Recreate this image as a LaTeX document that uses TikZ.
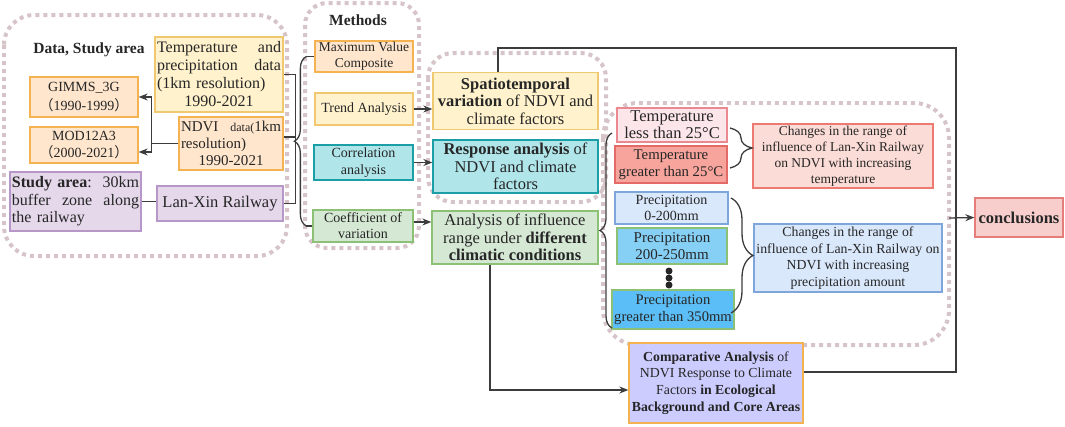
\documentclass[tikz,border=0pt]{standalone}
\usepackage{fontspec}
\setmainfont{Liberation Serif}
\newfontfamily\cjk{Noto Sans CJK SC}
\usetikzlibrary{arrows.meta,decorations.pathreplacing}
\definecolor{framecol}{HTML}{D6C4C8}
\definecolor{linecol}{HTML}{3C3C3C}
\definecolor{yelfill}{HTML}{FFF2CC}
\definecolor{yeldraw}{HTML}{F0C870}
\definecolor{orfill}{HTML}{FFE6CC}
\definecolor{ordraw}{HTML}{F4B350}
\definecolor{purfill}{HTML}{E4D8EA}
\definecolor{purdraw}{HTML}{B797C8}
\definecolor{cyfill}{HTML}{B0E6EA}
\definecolor{cydraw}{HTML}{1C9EA6}
\definecolor{grfill}{HTML}{D5E8D4}
\definecolor{grdraw}{HTML}{8CC075}
\definecolor{pkfill}{HTML}{FDE6EA}
\definecolor{pkdraw}{HTML}{EA8A90}
\definecolor{safill}{HTML}{F7A49C}
\definecolor{sadraw}{HTML}{E36A66}
\definecolor{rdfill}{HTML}{FCDCD6}
\definecolor{rddraw}{HTML}{EC7A72}
\definecolor{lbfill}{HTML}{DAE8FC}
\definecolor{lbdraw}{HTML}{7EA6DA}
\definecolor{bluefill}{HTML}{86D0F6}
\definecolor{deepfill}{HTML}{5CBEF7}
\definecolor{cofill}{HTML}{F8CECC}
\definecolor{codraw}{HTML}{E57E7A}
\definecolor{lvfill}{HTML}{CCCCFF}
\begin{document}
\begin{tikzpicture}[x=1pt,y=-1pt]
	\tikzset{box/.style={draw, line width=1.3pt, inner sep=0pt, align=center, text=black!85},
	dotframe/.style={draw=framecol, line width=4pt, dash pattern=on 4pt off 4pt},
	conn/.style={draw=linecol, line width=1.3pt},
	arr/.style={conn, -{Stealth[length=9pt,width=7pt]}},
	brc/.style={conn, decorate, decoration={brace, amplitude=#1}}};
	\useasboundingbox (0,0) rectangle (1065,426);

	% dotted groups
	\draw[dotframe, rounded corners=30pt] (4,15) rectangle (287,256);
	\draw[dotframe, rounded corners=22pt] (305,3) rectangle (419,248);
	\draw[dotframe, rounded corners=25pt] (428,53) rectangle (606,202);
	\draw[dotframe, rounded corners=35pt] (603,103) rectangle (949,345);

	\node[text=black!85, font=\bfseries\fontsize{15.5}{18}\selectfont] (datalbl) at (89,50) {Data, Study area};
	\node[text=black!85, font=\bfseries\fontsize{15.5}{18}\selectfont] (methlbl) at (358,20) {Methods};

	% data
	\node[box, fill=yelfill, draw=yeldraw, minimum width=128, minimum height=75, text width=124, font=\fontsize{16}{18}\selectfont] (tpd) at (219,74.5) {Temperature\hfill and\\precipitation\hfill data\\(1km resolution)\hfill\null\\1990-2021};
	\node[box, fill=orfill, draw=ordraw, minimum width=108, minimum height=40, font=\fontsize{14}{19}\selectfont] (gimms) at (84,97) {GIMMS\_3G\\{\cjk （}1990-1999{\cjk ）}};
	\node[box, fill=orfill, draw=ordraw, minimum width=108, minimum height=36, font=\fontsize{14}{17}\selectfont] (mod) at (84,145) {MOD12A3\\{\cjk （}2000-2021{\cjk ）}};
	\node[box, fill=orfill, draw=ordraw, minimum width=104, minimum height=53, text width=100, font=\fontsize{15}{17}\selectfont] (ndvi) at (231,143.5) {NDVI\hfill{\fontsize{12}{17}\selectfont data(}1km\\resolution)\hfill\null\\1990-2021};
	\node[box, fill=purfill, draw=purdraw, minimum width=131, minimum height=59, text width=127, font=\fontsize{16}{17.5}\selectfont] (study) at (75.5,201.5) {\textbf{Study area}:\hfill 30km\\buffer\hfill zone\hfill along\\the railway\hfill\null};
	\node[box, fill=purfill, draw=purdraw, minimum width=126, minimum height=35, font=\fontsize{16.5}{18}\selectfont] (lanxin) at (220,203.5) {Lan-Xin Railway};

	% methods
	\node[box, fill=orfill, draw=ordraw, minimum width=98, minimum height=31, font=\fontsize{13.5}{16.5}\selectfont] (mvc) at (364,56.5) {Maximum Value\\Composite};
	\node[box, fill=yelfill, draw=yeldraw, minimum width=98, minimum height=32, font=\fontsize{14}{16.5}\selectfont] (trend) at (364,109) {Trend Analysis};
	\node[box, fill=cyfill, draw=cydraw, minimum width=99, minimum height=35, font=\fontsize{14}{16.5}\selectfont] (corr) at (363.5,162.5) {Correlation\\analysis};
	\node[box, fill=grfill, draw=grdraw, minimum width=100, minimum height=32, font=\fontsize{14}{16}\selectfont] (cov) at (363,226) {Coefficient of\\variation};

	% analyses
	\node[box, fill=yelfill, draw=yeldraw, minimum width=165, minimum height=57, font=\fontsize{16.5}{17.5}\selectfont] (spatio) at (515.5,101) {\textbf{Spatiotemporal}\\\textbf{variation} of NDVI and\\climate factors};
	\node[box, fill=cyfill, draw=cydraw, minimum width=165, minimum height=53, font=\fontsize{16.5}{17.5}\selectfont] (resp) at (515.5,166.5) {\textbf{Response analysis} of\\NDVI and climate\\factors};
	\node[box, fill=grfill, draw=grdraw, minimum width=166, minimum height=53, font=\fontsize{16.5}{17.5}\selectfont] (anal) at (515,237.5) {Analysis of influence\\range under \textbf{different}\\\textbf{climatic conditions}};

	% conditions
	\node[box, fill=pkfill, draw=pkdraw, minimum width=110, minimum height=34, font=\fontsize{16.5}{17}\selectfont] (tless) at (672,125) {Temperature\\less than 25°C};
	\node[box, fill=safill, draw=sadraw, minimum width=112, minimum height=37, font=\fontsize{14.8}{17.5}\selectfont] (tgreat) at (671,164.5) {Temperature\\greater than 25°C};
	\node[box, fill=rdfill, draw=rddraw, minimum width=180, minimum height=64, font=\fontsize{13.5}{16}\selectfont] (chgt) at (843,156) {Changes in the range of\\influence of Lan-Xin Railway\\on NDVI with increasing\\temperature};
	\node[box, fill=lbfill, draw=lbdraw, minimum width=113, minimum height=32, font=\fontsize{14}{16.5}\selectfont] (prA) at (671.5,208) {Precipitation\\0-200mm};
	\node[box, fill=bluefill, draw=grdraw, minimum width=110, minimum height=36, font=\fontsize{15}{17}\selectfont] (prB) at (672,246) {Precipitation\\200-250mm};
	\node[box, fill=deepfill, draw=grdraw, minimum width=122, minimum height=39, font=\fontsize{14.6}{17.5}\selectfont] (prC) at (673,309.5) {Precipitation\\greater than 350mm};
	\node[box, fill=lbfill, draw=lbdraw, minimum width=188, minimum height=68, font=\fontsize{13.8}{16.7}\selectfont] (chgp) at (848,258) {Changes in the range of\\influence of Lan-Xin Railway on\\NDVI with increasing\\precipitation amount};
	\foreach \d in {271,278,285}
		\fill[black!85] (669,\d) circle (3.5pt);

	\node[box, fill=cofill, draw=codraw, minimum width=88, minimum height=39, font=\bfseries\fontsize{16.5}{18}\selectfont] (concl) at (1019,217.5) {conclusions};
	\node[box, fill=lvfill, draw=ordraw, minimum width=174, minimum height=80, font=\fontsize{13.8}{16.7}\selectfont] (comp) at (716,383) {\textbf{Comparative Analysis} of\\NDVI Response to Climate\\Factors \textbf{in Ecological}\\\textbf{Background and Core Areas}};

	% connectors
	\draw[arr] (ndvi.west) -- ++(-27,0) coordinate (split) |- (gimms.east);
	\draw[arr] (split) |- ([yshift=-7pt]mod.east);
	\draw[conn] (study.east) -- (study.east -| lanxin.west);
	\draw[conn] (tpd.east) -- ++(12,0) |- (lanxin.east);
	\draw[conn] ([yshift=6.5pt]ndvi.east) -- ++(12,0);
	\draw[brc=12pt] ([xshift=-6pt]cov.west) -- ([xshift=-6pt]cov.west |- mvc.west);
	\draw[conn] ([xshift=-8pt]mvc.west) -- (mvc.west);
	\draw[conn] ([xshift=-6pt]cov.west) -- (cov.west);

	\draw[arr] (trend.east) -- (trend.east -| spatio.west);
	\draw[arr] (corr.east) -- (corr.east -| resp.west);
	\draw[arr] ([yshift=4pt]cov.east) -- ([yshift=4pt]cov.east -| anal.west);

	\coordinate (lbtop) at (612,133);
	\coordinate (lbbot) at (612,328);
	\draw[brc=12pt] (lbbot) -- (lbtop);
	\draw[conn] ([yshift=7pt]anal.east) -- ++(2,0);
	\coordinate (tbtop) at (730,128);
	\coordinate (tbbot) at (730,168);
	\draw[brc=22pt] (tbtop) -- (tbbot);
	\coordinate (pbtop) at (731,198);
	\coordinate (pbbot) at (731,313);
	\draw[brc=22pt] (pbtop) -- (pbbot);

	\coordinate (topright) at (956,48);
	\draw[conn] ([xshift=-17.5pt]spatio.north) |- (topright) |- ([yshift=11pt]comp.east);
	\draw[arr] ([xshift=-25pt]anal.south) |- ([yshift=-7pt]comp.west);
	\coordinate (rightedge) at (949,218);
	\draw[arr] (rightedge) -- (concl.west);
\end{tikzpicture}
\end{document}
